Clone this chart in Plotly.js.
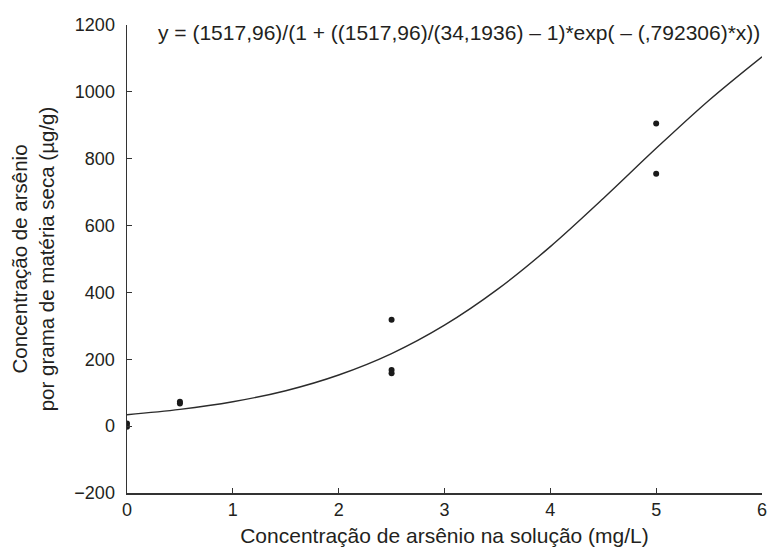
<!DOCTYPE html>
<html>
<head>
<meta charset="utf-8">
<script src="https://cdn.plot.ly/plotly-3.0.1.min.js"></script>
<style>html,body{margin:0;padding:0;background:#fff;}#chart{width:768px;height:549px;}</style>
</head>
<body>
<div id="chart"></div>
<script>
// Observed data points
const obsX = [0, 0, 0.5, 0.5, 2.5, 2.5, 2.5, 5, 5];
const obsY = [8, -2, 73, 68, 318, 168, 158, 905, 755];

// Fitted curve
const fitX = [0, 0.5, 1, 1.5, 2, 2.5, 3, 3.5, 4, 4.5, 5, 5.5, 6];
const fitY = [34, 50, 73, 106, 153, 217, 302, 409, 537, 681, 831, 975, 1105];

const xTicks = [0, 1, 2, 3, 4, 5, 6];
const yTicks = [-200, 0, 200, 400, 600, 800, 1000, 1200];
const yTickText = ['\u2212200', '0', '200', '400', '600', '800', '1000', '1200'];

const equation = 'y = (1517,96)/(1 + ((1517,96)/(34,1936) \u2013 1)*exp( \u2013 (,792306)*x))';
const xTitle = 'Concentração de arsênio na solução (mg/L)';
const yTitle = 'Concentração de arsênio<br>por grama de matéria seca (µg/g)';

const font = {family: 'Liberation Sans, Arial, sans-serif', color: '#231f20'};

const traces = [
  {x: fitX, y: fitY, mode: 'lines', line: {color: '#2b2b2b', width: 1.4, shape: 'spline'}, hoverinfo: 'skip'},
  {x: obsX, y: obsY, mode: 'markers', marker: {color: '#1a1a1a', size: 6}}
];

const layout = {
  width: 768, height: 549,
  margin: {l: 127, r: 6, t: 25, b: 56},
  paper_bgcolor: '#fff', plot_bgcolor: '#fff',
  showlegend: false,
  font: Object.assign({size: 18}, font),
  xaxis: {
    range: [0, 6], tickvals: xTicks, ticktext: xTicks.map(String),
    ticks: 'inside', ticklen: 5, tickcolor: '#333', tickwidth: 1,
    showline: true, linecolor: '#333', linewidth: 1.5,
    showgrid: false, zeroline: false,
    tickfont: Object.assign({size: 18}, font),
    title: {text: xTitle, font: Object.assign({size: 21}, font), standoff: 9}
  },
  yaxis: {
    range: [-200, 1200], tickvals: yTicks, ticktext: yTickText,
    ticks: 'inside', ticklen: 5, tickcolor: '#333', tickwidth: 1,
    showline: true, linecolor: '#333', linewidth: 1.5,
    showgrid: false, zeroline: false, ticklabelstandoff: 7,
    tickfont: Object.assign({size: 18}, font),
    title: {text: yTitle, font: Object.assign({size: 20.5}, font), standoff: 14}
  },
  annotations: [{
    text: equation, xref: 'paper', yref: 'paper', x: 1, y: 1,
    xanchor: 'right', yanchor: 'top', showarrow: false, yshift: 6,
    font: Object.assign({size: 21}, font)
  }]
};

Plotly.newPlot('chart', traces, layout, {displayModeBar: false, staticPlot: true});
</script>
</body>
</html>
